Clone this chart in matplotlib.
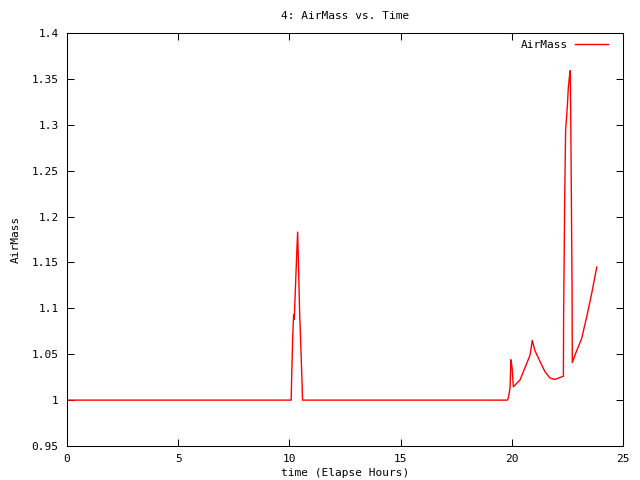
import matplotlib
matplotlib.use('Agg')
import matplotlib.pyplot as plt
from matplotlib.ticker import FuncFormatter

# elapsed hours and airmass
hours = [0.0, 10.08, 10.10, 10.15, 10.19, 10.22, 10.25, 10.33, 10.37, 10.40, 10.46,
         10.52, 10.57, 10.59,
         19.80, 19.84, 19.92, 19.96, 20.01, 20.07, 20.37, 20.67, 20.82, 20.92, 21.04,
         21.27, 21.49, 21.72, 21.94, 22.17, 22.32, 22.33, 22.38, 22.42, 22.50, 22.54,
         22.59, 22.63, 22.66, 22.71, 22.72, 22.92, 23.14, 23.37, 23.59, 23.82]
airmass = [1.0, 1.0, 1.023, 1.07, 1.093, 1.088, 1.109, 1.16, 1.183, 1.156, 1.095,
           1.054, 1.018, 1.0,
           1.0, 1.002, 1.013, 1.044, 1.036, 1.0145, 1.022, 1.040, 1.049, 1.065, 1.054,
           1.042, 1.031, 1.024, 1.0225, 1.0247, 1.026, 1.092, 1.223, 1.294, 1.321, 1.340,
           1.352, 1.359, 1.280, 1.120, 1.041, 1.054, 1.067, 1.091, 1.116, 1.145]

xticks = [0, 5, 10, 15, 20, 25]
yticks = [0.95, 1.0, 1.05, 1.1, 1.15, 1.2, 1.25, 1.3, 1.35, 1.4]

plt.rcParams['font.family'] = 'DejaVu Sans Mono'
plt.rcParams['font.size'] = 8

fig = plt.figure(figsize=(6.4, 4.8), dpi=100)
ax = fig.add_axes([67 / 640, 34 / 480, 556 / 640, 413 / 480])

ax.plot(hours, airmass, color='red', linewidth=1, label='AirMass')

ax.set_xlim(0, 25)
ax.set_ylim(0.95, 1.4)
ax.set_xticks(xticks)
ax.set_yticks(yticks)
ax.yaxis.set_major_formatter(FuncFormatter(lambda v, p: '%g' % round(v, 2)))
ax.tick_params(direction='in', top=True, right=True, length=5, width=0.75, pad=6)
for s in ax.spines.values():
    s.set_linewidth(0.75)

ax.set_title('4: AirMass vs. Time', fontsize=8, pad=10)
ax.set_xlabel('time (Elapse Hours)', labelpad=3)
ax.set_ylabel('AirMass', labelpad=8)

ax.legend(loc='upper right', bbox_to_anchor=(0.981, 0.995), frameon=False,
          markerfirst=False, handlelength=3.0, handletextpad=0.6, borderaxespad=0)

fig.savefig('out.png', dpi=100)
